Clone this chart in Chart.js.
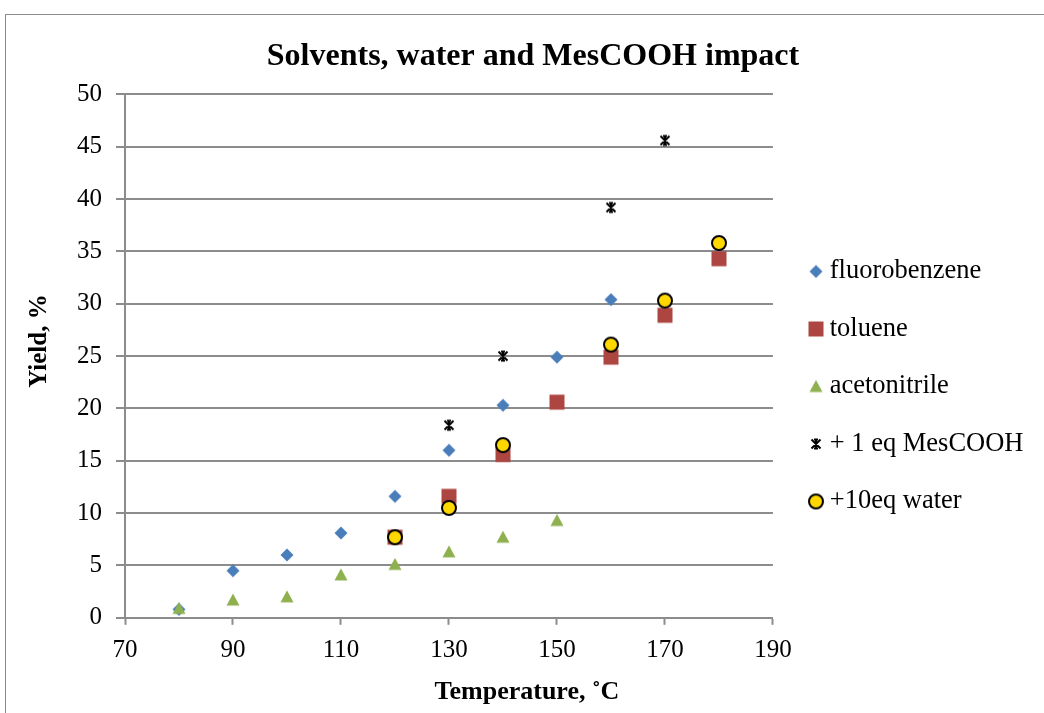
<!DOCTYPE html>
<html>
<head>
<meta charset="utf-8">
<script src="https://cdn.jsdelivr.net/npm/chart.js@4.4.1/dist/chart.umd.min.js"></script>
<style>
    html, body { margin: 0; padding: 0; background: #fff; }
    #wrap { position: relative; width: 1044px; height: 713px; }
</style>
</head>
<body>
<div id="wrap"><canvas id="yieldChart" width="1044" height="713"></canvas></div>
<script>
/*== Data ==*/
const seriesNames = ['fluorobenzene', 'toluene', 'acetonitrile', '+ 1 eq MesCOOH', '+10eq water'];

const fluoroT = [80, 90, 100, 110, 120, 130, 140, 150, 160];
const fluoroY = [0.8, 4.5, 6.0, 8.1, 11.6, 16.0, 20.3, 24.9, 30.4];

const tolueneT = [120, 130, 140, 150, 160, 170, 180];
const tolueneY = [7.7, 11.6, 15.6, 20.6, 24.9, 28.9, 34.3];

const acetoT = [80, 90, 100, 110, 120, 130, 140, 150];
const acetoY = [0.9, 1.7, 2.0, 4.1, 5.1, 6.3, 7.7, 9.3];

const mesT = [130, 140, 160, 170];
const mesY = [18.4, 25.0, 39.2, 45.6];

const waterT = [120, 130, 140, 160, 170, 180];
const waterY = [7.7, 10.5, 16.5, 26.1, 30.3, 35.8];

const xTicks = [70, 90, 110, 130, 150, 170, 190];
const yTicks = [0, 5, 10, 15, 20, 25, 30, 35, 40, 45, 50];

const FONT = "'Liberation Serif', 'Times New Roman', serif";
const GRID = '#8c8c8c';

function toPoints(xs, ys) {
    return xs.map((x, i) => ({x: x, y: ys[i]}));
}

/*== Marker images (Excel style) ==*/
function marker(kind) {
    const c = document.createElement('canvas');
    const size = 18;
    c.width = size;
    c.height = size;
    const g = c.getContext('2d');
    const m = size / 2;
    g.beginPath();
    switch (kind) {
        case 'diamond':
            g.moveTo(m, m - 6.5); g.lineTo(m + 6.5, m); g.lineTo(m, m + 6.5); g.lineTo(m - 6.5, m);
            g.closePath();
            g.fillStyle = '#4a7ebb';
            g.fill();
            break;
        case 'square':
            g.rect(m - 7.5, m - 7.5, 15, 15);
            g.fillStyle = '#ad4541';
            g.fill();
            break;
        case 'triangle':
            g.moveTo(m, m - 6.5); g.lineTo(m + 6.5, m + 5.5); g.lineTo(m - 6.5, m + 5.5);
            g.closePath();
            g.fillStyle = '#8eb04f';
            g.fill();
            break;
        case 'star':
            g.moveTo(m - 4.5, m - 4.5); g.lineTo(m + 4.5, m + 4.5);
            g.moveTo(m + 4.5, m - 4.5); g.lineTo(m - 4.5, m + 4.5);
            g.moveTo(m, m - 4.5); g.lineTo(m, m + 4.5);
            g.moveTo(m - 2, m - 4.5); g.lineTo(m + 2, m - 4.5);
            g.moveTo(m - 2, m + 4.5); g.lineTo(m + 2, m + 4.5);
            g.strokeStyle = '#000';
            g.lineWidth = 2;
            g.stroke();
            break;
        case 'circle':
            g.arc(m, m, 7, 0, Math.PI * 2);
            g.fillStyle = '#ffd800';
            g.fill();
            g.strokeStyle = '#000';
            g.lineWidth = 2;
            g.stroke();
            break;
    }
    return c;
}

const markers = [marker('diamond'), marker('square'), marker('triangle'), marker('star'), marker('circle')];

// move a scale title without moving the scale itself
function shiftTitle(scale, dx, dy) {
    if (scale._shifted) {
        return;
    }
    const orig = scale.drawTitle;
    scale.drawTitle = function () {
        this.left += dx; this.right += dx;
        this.top += dy; this.bottom += dy;
        orig.call(this);
        this.left -= dx; this.right -= dx;
        this.top -= dy; this.bottom -= dy;
    };
    scale._shifted = true;
}

/*== Frame around the chart and small layout nudges ==*/
const framePlugin = {
    id: 'frame',
    afterLayout(chart) {
        const lg = chart.legend;
        lg.left += 11.5; lg.right += 11.5;
        lg.top += 23; lg.bottom += 23;
        const tb = chart.titleBlock;
        tb.left += 22; tb.right += 22;
        shiftTitle(chart.scales.x, 78, 0);
        shiftTitle(chart.scales.y, 0, -15);
    },
    beforeDraw(chart) {
        const ctx = chart.ctx;
        ctx.save();
        ctx.strokeStyle = '#8c8c8c';
        ctx.lineWidth = 1;
        ctx.strokeRect(5.5, 14.5, 1100, 800);
        ctx.restore();
    }
};

const ctx = document.getElementById('yieldChart').getContext('2d');

const myChart = new Chart(ctx, {
    type: 'scatter',
    data: {
        datasets: [
            { label: seriesNames[0], data: toPoints(fluoroT, fluoroY), pointStyle: markers[0], order: 5 },
            { label: seriesNames[1], data: toPoints(tolueneT, tolueneY), pointStyle: markers[1], order: 4 },
            { label: seriesNames[2], data: toPoints(acetoT, acetoY), pointStyle: markers[2], order: 3 },
            { label: seriesNames[3], data: toPoints(mesT, mesY), pointStyle: markers[3], order: 2 },
            { label: seriesNames[4], data: toPoints(waterT, waterY), pointStyle: markers[4], order: 1 }
        ]
    },
    options: {
        responsive: false,
        animation: false,
        events: [],
        layout: {
            padding: { left: 0, right: 22, top: 14, bottom: 0 }
        },
        scales: {
            x: {
                type: 'linear',
                min: 70,
                max: 190,
                afterBuildTicks: scale => {
                    scale.ticks = xTicks.map(v => ({value: v}));
                },
                ticks: {
                    color: '#000',
                    padding: 11,
                    font: { family: FONT, size: 25 }
                },
                grid: {
                    drawOnChartArea: false,
                    tickLength: 7,
                    tickColor: GRID,
                    tickWidth: 2
                },
                border: { color: GRID, width: 2 },
                title: {
                    display: true,
                    text: 'Temperature, ˚C',
                    color: '#000',
                    padding: { top: 0, bottom: 5 },
                    font: { family: FONT, size: 26, weight: 'bold' }
                }
            },
            y: {
                min: 0,
                max: 50,
                afterBuildTicks: scale => {
                    scale.ticks = yTicks.map(v => ({value: v}));
                },
                afterFit: scale => {
                    scale.width = 125;
                },
                ticks: {
                    color: '#000',
                    padding: 14,
                    font: { family: FONT, size: 25 }
                },
                grid: {
                    color: GRID,
                    lineWidth: 2,
                    tickLength: 9,
                    tickColor: GRID,
                    tickWidth: 2
                },
                border: { color: GRID, width: 2 },
                title: {
                    display: true,
                    text: 'Yield, %',
                    color: '#000',
                    padding: { top: 25, bottom: 0 },
                    font: { family: FONT, size: 25, weight: 'bold' }
                }
            }
        },
        plugins: {
            title: {
                display: true,
                text: 'Solvents, water and MesCOOH impact',
                color: '#000',
                padding: { top: 24, bottom: 18 },
                font: { family: FONT, size: 32, weight: 'bold' }
            },
            legend: {
                position: 'right',
                align: 'center',
                labels: {
                    usePointStyle: true,
                    pointStyleWidth: 1,
                    padding: 31,
                    color: '#000',
                    font: { family: FONT, size: 26.5 },
                    generateLabels: chart => chart.data.datasets.map((ds, i) => ({
                        text: ds.label,
                        pointStyle: markers[i],
                        datasetIndex: i,
                        hidden: false,
                        lineWidth: 0
                    }))
                }
            },
            tooltip: { enabled: false }
        }
    },
    plugins: [framePlugin]
});
</script>
</body>
</html>
